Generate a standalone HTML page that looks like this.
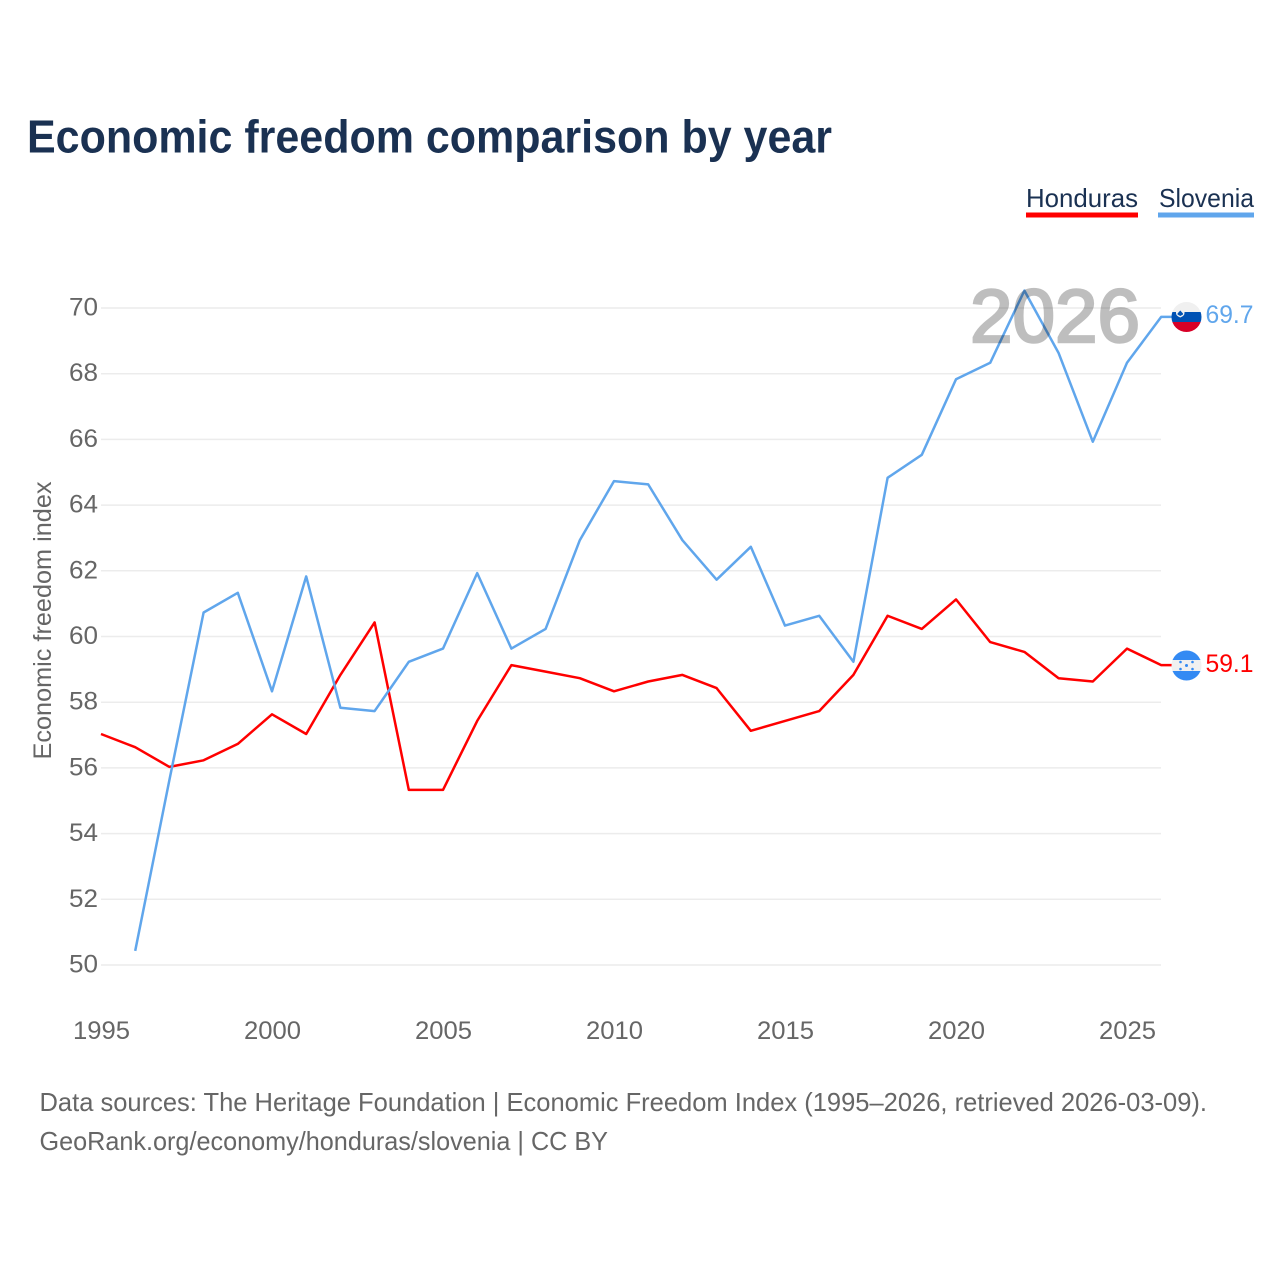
<!DOCTYPE html>
<html lang="en">
<head>
<meta charset="utf-8">
<title>Economic freedom comparison by year</title>
<style>
html,body{margin:0;padding:0;background:#fff;}
svg{display:block;}
text{font-family:"Liberation Sans",sans-serif;}
</style>
</head>
<body>
<svg id="chart" xmlns="http://www.w3.org/2000/svg" width="1280" height="1280" viewBox="0 0 1280 1280">
  <rect width="1280" height="1280" fill="#fff"/>
  <text x="27" y="152.5" font-size="46" font-weight="700" fill="#1a3152" textLength="805" lengthAdjust="spacingAndGlyphs">Economic freedom comparison by year</text>

  <g>
    <g>
      <text x="1026" y="207" font-size="26" fill="#1a3152" textLength="112" lengthAdjust="spacingAndGlyphs">Honduras</text>
      <rect x="1026" y="212.5" width="112" height="5" fill="#ff0000"/>
    </g>
    <g>
      <text x="1159" y="207" font-size="26" fill="#1a3152" textLength="95" lengthAdjust="spacingAndGlyphs">Slovenia</text>
      <rect x="1158" y="212.5" width="96" height="5" fill="#60a6ec"/>
    </g>
  </g>

  <g id="grid"></g>
  <g id="yticks"></g>
  <g id="xticks"></g>
  <text transform="translate(51,620.500) rotate(-90)" text-anchor="middle" font-size="25" fill="#666" textLength="278" lengthAdjust="spacingAndGlyphs">Economic freedom index</text>
  <g id="series"></g>

  <text id="year-watermark" x="970" y="342" font-size="75" fill="#000" stroke="#000" stroke-width="2.500" opacity="0.25" textLength="170" lengthAdjust="spacingAndGlyphs">2026</text>

  <defs>
    <clipPath id="clip-si"><circle cx="1186.5" cy="317" r="15"/></clipPath>
    <clipPath id="clip-hn"><circle cx="1186.5" cy="665.5" r="15"/></clipPath>
  </defs>

  <g clip-path="url(#clip-si)">
    <rect x="1171" y="302" width="31" height="10" fill="#f0f0f0"/>
    <rect x="1171" y="312" width="31" height="10" fill="#0052b4"/>
    <rect x="1171" y="322" width="31" height="10" fill="#d80027"/>
    <path d="M1176 308h8.500v5q0 3-4.250 4.500q-4.250-1.500-4.250-4.500z" fill="#f0f0f0"/>
    <path d="M1177.500 313.500l2.750-3l2.750 3v1l-2.750 1.500l-2.750-1.500z" fill="#0052b4"/>
  </g>
  <g clip-path="url(#clip-hn)">
    <rect x="1171" y="650" width="31" height="10" fill="#338af3"/>
    <rect x="1171" y="660" width="31" height="11" fill="#f0f0f0"/>
    <rect x="1171" y="671" width="31" height="10" fill="#338af3"/>
    <g fill="#338af3">
      <circle cx="1186.500" cy="665.500" r="1.500"/>
      <circle cx="1180.500" cy="662" r="1.300"/>
      <circle cx="1192.500" cy="662" r="1.300"/>
      <circle cx="1180.500" cy="669" r="1.300"/>
      <circle cx="1192.500" cy="669" r="1.300"/>
    </g>
  </g>

  <text x="1205.500" y="323" font-size="25" fill="#60a6ec" textLength="48" lengthAdjust="spacingAndGlyphs">69.7</text>
  <text x="1205.500" y="672" font-size="25" fill="#ff0000" textLength="48" lengthAdjust="spacingAndGlyphs">59.1</text>

  <text x="39.500" y="1111" font-size="26" fill="#666" textLength="1167.500" lengthAdjust="spacingAndGlyphs">Data sources: The Heritage Foundation | Economic Freedom Index (1995–2026, retrieved 2026-03-09).</text>
  <a><text x="39.500" y="1150" font-size="26" fill="#666" textLength="568.500" lengthAdjust="spacingAndGlyphs">GeoRank.org/economy/honduras/slovenia | CC BY</text></a>
</svg>

<script>
const years = [1995,1996,1997,1998,1999,2000,2001,2002,2003,2004,2005,2006,2007,2008,2009,2010,2011,2012,2013,2014,2015,2016,2017,2018,2019,2020,2021,2022,2023,2024,2025,2026];
const honduras = [57.0,56.6,56.0,56.2,56.7,57.6,57.0,58.8,60.4,55.3,55.3,57.4,59.1,58.9,58.7,58.3,58.6,58.8,58.4,57.1,57.4,57.7,58.8,60.6,60.2,61.1,59.8,59.5,58.7,58.6,59.6,59.1];
const slovenia = [null,50.4,55.6,60.7,61.3,58.3,61.8,57.8,57.7,59.2,59.6,61.9,59.6,60.2,62.9,64.7,64.6,62.9,61.7,62.7,60.3,60.6,59.2,64.8,65.5,67.8,68.3,70.5,68.6,65.9,68.3,69.7];
const yTickLabels = [50,52,54,56,58,60,62,64,66,68,70];
const xTickLabels = [1995,2000,2005,2010,2015,2020,2025];

const NS = 'http://www.w3.org/2000/svg';
function xScale(year) { return 101.5 + (year - 1995) * 34.2; }
function yScale(value) { return 965 - (value - 50) * 32.85; }
function make(tag, parent) {
  const el = document.createElementNS(NS, tag);
  parent.appendChild(el);
  return el;
}

const gridGroup = document.getElementById('grid');
const yTickGroup = document.getElementById('yticks');
const xTickGroup = document.getElementById('xticks');
const seriesGroup = document.getElementById('series');

yTickLabels.forEach(function (tick) {
  const line = make('line', gridGroup);
  
  
  line.setAttribute('x1', 101);
  line.setAttribute('x2', 1161);
  line.setAttribute('y1', yScale(tick));
  line.setAttribute('y2', yScale(tick));
  line.setAttribute('stroke', '#ececec');
  line.setAttribute('stroke-width', '1.5');

  const label = make('text', yTickGroup);
  
  
  label.setAttribute('x', 98);
  label.setAttribute('y', yScale(tick) + 7.5);
  label.setAttribute('text-anchor', 'end');
  label.setAttribute('font-size', '25');
  label.setAttribute('fill', '#666');
  label.setAttribute('textLength', '29');
  label.setAttribute('lengthAdjust', 'spacingAndGlyphs');
  label.textContent = tick;
});

xTickLabels.forEach(function (tick) {
  const label = make('text', xTickGroup);
  
  
  label.setAttribute('x', xScale(tick));
  label.setAttribute('y', 1039);
  label.setAttribute('text-anchor', 'middle');
  label.setAttribute('font-size', '25');
  label.setAttribute('fill', '#666');
  label.setAttribute('textLength', '57');
  label.setAttribute('lengthAdjust', 'spacingAndGlyphs');
  label.textContent = tick;
});

function drawSeries(values, color, name) {
  const pts = [];
  let last = null;
  values.forEach(function (v, i) {
    if (v === null) return;
    pts.push((xScale(years[i]) - 0.5).toFixed(1) + ',' + (yScale(v) - 1).toFixed(1));
    last = v;
  });
  pts.push('1172,' + (yScale(last) - 1).toFixed(1));
  const line = make('polyline', seriesGroup);
  
  
  line.setAttribute('points', pts.join(' '));
  line.setAttribute('fill', 'none');
  line.setAttribute('stroke', color);
  line.setAttribute('stroke-width', '2.5');
  line.setAttribute('stroke-linejoin', 'round');
}

drawSeries(honduras, '#ff0000', 'honduras');
drawSeries(slovenia, '#60a6ec', 'slovenia');
</script>
</body>
</html>
